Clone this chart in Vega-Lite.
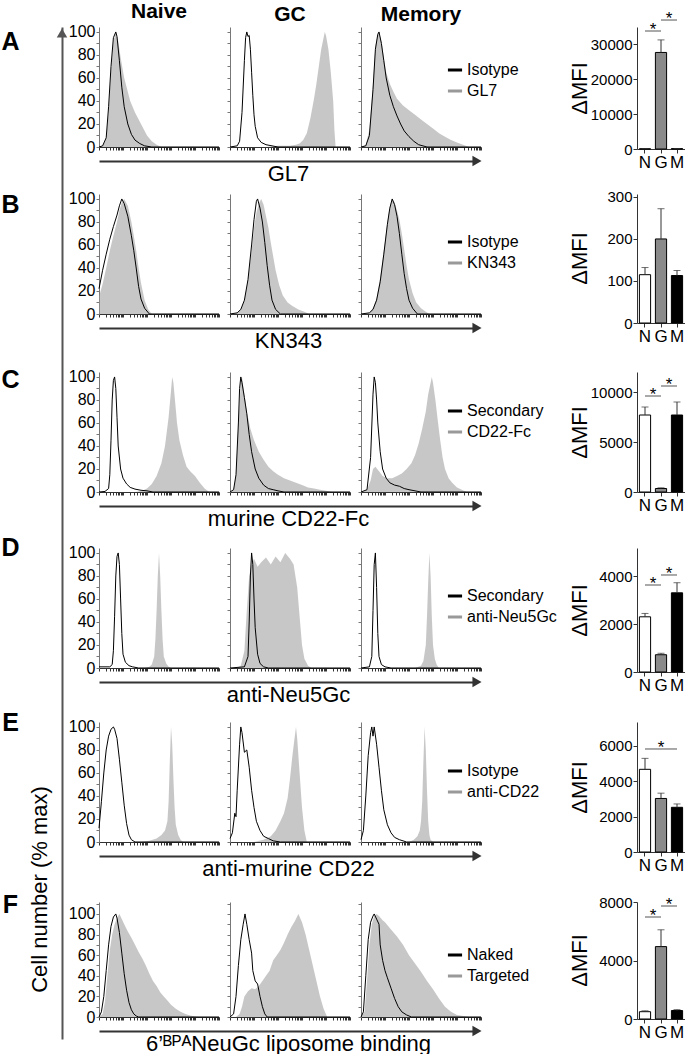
{
"$schema":"https://vega.github.io/schema/vega-lite/v6.json",
"padding":0,
"config":{"font":"Liberation Sans","view":{"stroke":null},"axis":{"grid":false,"labelColor":"#000","titleColor":"#000","labelFont":"Liberation Sans","titleFont":"Liberation Sans"},"legend":{"labelFont":"Liberation Sans","labelColor":"#000"},"title":{"font":"Liberation Sans","color":"#000"}},
"datasets":{
"h":[
{"r":"A","p":"N","s":"f","lab":"GL7","x":[0,3,6,8,10,12,14,16,18,21,24,26,30,35,40,44,48,52,100],"y":[0,1,8,30,65,92,100,92,78,60,48,40,30,20,10,5,2,0,0]},
{"r":"A","p":"N","s":"l","lab":"Isotype","x":[0,3,6,8,10,12,14,15,17,19,21,24,27,30,34,38,44,100],"y":[0,1,8,35,70,95,100,96,75,52,35,20,11,6,3,1,0,0]},
{"r":"A","p":"G","s":"f","lab":"GL7","x":[0,30,40,50,55,58,61,64,67,70,72,74,76,78,79,80,82,84,86,87,88,100],"y":[0,0,1,1,2,3,6,12,25,42,55,70,85,95,100,97,85,65,40,15,0,0]},
{"r":"A","p":"G","s":"l","lab":"Isotype","x":[0,6,8,10,12,13,14,15,16,17,18,19,20,21,23,26,30,35,40,100],"y":[0,1,5,30,75,95,100,96,97,85,65,45,28,18,8,4,2,1,0,0]},
{"r":"A","p":"M","s":"f","lab":"GL7","x":[0,4,7,10,12,14,15,17,19,21,24,27,30,35,40,45,50,55,60,65,70,75,80,85,90,100],"y":[0,2,15,55,88,98,100,92,78,65,55,48,42,36,32,28,24,20,16,12,9,6,4,2,0,0]},
{"r":"A","p":"M","s":"l","lab":"Isotype","x":[0,4,7,10,12,14,15,17,19,21,24,27,30,33,36,40,44,48,55,100],"y":[0,1,10,50,85,98,100,90,75,60,45,35,27,20,14,9,5,2,0,0]},
{"r":"B","p":"N","s":"f","lab":"KN343","x":[0,3,6,9,12,15,17,19,21,24,27,29,31,33,35,38,41,44,100],"y":[15,26,40,55,68,80,90,97,100,94,80,68,55,40,27,12,4,0,0]},
{"r":"B","p":"N","s":"l","lab":"Isotype","x":[0,3,6,9,12,15,17,19,21,24,27,29,31,33,35,38,42,100],"y":[22,38,52,65,76,86,94,100,96,85,68,55,40,24,13,5,0,0]},
{"r":"B","p":"G","s":"f","lab":"KN343","x":[0,6,9,12,15,18,20,22,24,26,28,30,32,34,36,38,41,44,48,52,57,62,66,100],"y":[0,1,4,12,30,55,75,88,96,100,95,85,75,62,50,38,25,16,10,7,4,2,0,0]},
{"r":"B","p":"G","s":"l","lab":"Isotype","x":[0,6,9,12,15,18,20,22,23,25,27,29,31,33,35,38,42,100],"y":[0,1,4,12,30,60,82,98,100,92,80,62,42,25,12,4,0,0]},
{"r":"B","p":"M","s":"f","lab":"KN343","x":[0,7,10,13,16,19,22,24,26,28,30,32,34,36,38,40,43,46,50,54,57,100],"y":[0,1,5,14,32,55,80,93,100,97,90,82,70,56,42,30,18,10,5,2,0,0]},
{"r":"B","p":"M","s":"l","lab":"Isotype","x":[0,7,10,13,16,19,22,24,26,28,30,32,34,36,38,40,43,47,100],"y":[0,1,4,12,28,52,78,92,100,95,85,70,52,35,22,12,5,0,0]},
{"r":"C","p":"N","s":"f","lab":"CD22-Fc","x":[0,30,36,40,44,48,52,55,58,60,61,62,64,65,67,70,73,76,80,84,88,92,100],"y":[0,0,1,3,7,14,25,40,65,88,100,95,72,60,45,32,22,18,14,8,3,0,0]},
{"r":"C","p":"N","s":"l","lab":"Secondary","x":[0,5,8,9,10,11,12,13,14,15,16,18,20,23,26,30,35,40,45,100],"y":[0,0.5,3,15,45,80,97,100,90,65,40,20,12,7,4,2.5,1.5,1,0,0]},
{"r":"C","p":"G","s":"f","lab":"CD22-Fc","x":[0,3,5,7,9,10,12,14,17,20,24,28,32,36,40,45,50,55,60,65,70,75,80,85,100],"y":[0,2,15,60,95,100,85,70,55,45,35,28,22,18,15,12,10,8,6,4,3,2,1,0,0]},
{"r":"C","p":"G","s":"l","lab":"Secondary","x":[0,3,5,7,8,9,10,12,14,16,18,21,24,28,32,36,40,45,100],"y":[0,2,15,60,90,100,95,82,68,50,35,20,12,6,3,2,1,0,0]},
{"r":"C","p":"M","s":"f","lab":"CD22-Fc","x":[0,5,8,10,12,15,18,22,26,30,34,38,42,45,48,51,54,56,58,59,60,62,64,66,68,70,73,76,80,84,88,100],"y":[0,2,10,20,22,18,14,12,12,14,16,20,25,32,42,55,70,85,95,100,95,80,62,45,30,20,12,8,4,2,0,0]},
{"r":"C","p":"M","s":"l","lab":"Secondary","x":[0,5,8,10,11,12,13,14,16,18,21,24,28,32,36,40,45,50,100],"y":[0,2,30,85,100,95,80,60,35,20,12,8,6,5,3,2,1,0,0]},
{"r":"D","p":"N","s":"f","lab":"anti-Neu5Gc","x":[0,38,42,44,46,47,48,49,50,51,52,53,54,56,58,60,100],"y":[0,0,1,3,10,25,50,80,100,80,50,25,10,4,1,0,0]},
{"r":"D","p":"N","s":"l","lab":"Secondary","x":[0,9,11,12,13,14,15,16,17,18,19,20,22,25,28,33,100],"y":[1,1,3,15,45,80,97,100,90,60,30,12,5,2,1,0,0]},
{"r":"D","p":"G","s":"f","lab":"anti-Neu5Gc","x":[0,5,9,12,14,16,18,20,23,26,30,34,38,42,46,50,53,56,58,60,62,65,68,100],"y":[0,0,2,15,50,80,90,95,88,92,96,90,97,92,100,95,90,70,45,20,8,2,0,0]},
{"r":"D","p":"G","s":"l","lab":"Secondary","x":[0,12,15,16,17,18,19,20,21,23,25,28,32,100],"y":[0,1,10,40,80,100,90,60,35,12,4,1,0,0]},
{"r":"D","p":"M","s":"f","lab":"anti-Neu5Gc","x":[0,45,50,52,54,55,56,57,58,59,60,61.5,63,65,100],"y":[0,0,2,6,20,45,75,100,80,45,20,8,3,0,0]},
{"r":"D","p":"M","s":"l","lab":"Secondary","x":[0,7,9,10,11,12,13,14,15,17,20,25,100],"y":[0,1,10,50,90,100,70,30,10,3,1,0,0]},
{"r":"E","p":"N","s":"f","lab":"anti-CD22","x":[0,36,42,48,52,55,57,58,59,60,61,62,63,64,66,68,70,100],"y":[0,0,1,3,6,10,18,35,70,100,85,55,30,15,6,2,0,0]},
{"r":"E","p":"N","s":"l","lab":"Isotype","x":[0,2,4,6,8,10,12,13,15,17,19,21,23,25,27,30,100],"y":[12,35,60,80,92,98,100,98,90,72,52,32,16,6,2,0,0]},
{"r":"E","p":"G","s":"f","lab":"anti-CD22","x":[0,20,28,34,38,42,45,48,50,52,54,55,56,58,60,62,64,100],"y":[0,0,2,5,10,18,25,38,55,75,92,100,90,60,30,10,0,0]},
{"r":"E","p":"G","s":"l","lab":"Isotype","x":[0,2,4,5,6,8,9,10,12,14,16,18,20,22,25,28,32,36,42,100],"y":[3,8,25,22,45,85,100,95,78,80,65,45,30,18,10,5,3,1,0,0]},
{"r":"E","p":"M","s":"f","lab":"anti-CD22","x":[0,40,44,47,49,50,51,52,53,54,55,56,57,58,60,100],"y":[0,0,2,5,10,18,35,70,100,80,45,18,6,2,0,0]},
{"r":"E","p":"M","s":"l","lab":"Isotype","x":[0,2,4,6,8,9,10,11,13,15,17,19,22,25,28,32,38,100],"y":[2,10,40,75,95,100,92,100,85,65,45,28,15,8,4,2,0,0]},
{"r":"F","p":"N","s":"f","lab":"Targeted","x":[0,3,5,7,9,11,13,15,17,19,21,24,27,30,33,36,39,42,45,48,51,54,57,60,64,68,72,76,80,84,100],"y":[0,3,15,40,65,80,90,96,100,95,90,83,77,70,63,57,50,42,35,30,24,20,16,12,8,5,3,1.5,0.5,0,0]},
{"r":"F","p":"N","s":"l","lab":"Naked","x":[0,2,4,6,8,10,12,14,15,17,19,21,23,25,27,29,31,33,100],"y":[0,5,20,45,70,88,97,100,96,82,62,42,26,14,7,3,1,0,0]},
{"r":"F","p":"G","s":"f","lab":"Targeted","x":[0,5,8,10,12,15,18,21,24,27,30,33,36,39,42,45,48,51,54,57,60,63,66,69,72,75,78,81,100],"y":[0,0,3,10,20,25,28,27,30,35,40,45,55,60,65,72,80,87,93,100,92,80,65,50,35,20,8,0,0]},
{"r":"F","p":"G","s":"l","lab":"Naked","x":[0,3,5,7,9,11,12.5,14,16,18,19,21,23,25,27,29,31,100],"y":[0,3,20,50,75,90,100,90,75,62,45,35,32,20,10,3,0,0]},
{"r":"F","p":"M","s":"f","lab":"Targeted","x":[0,3,5,7,9,11,13,15,18,20,25,30,35,40,45,50,55,60,65,70,75,80,85,90,100],"y":[0,5,35,70,90,98,100,98,94,92,85,78,70,60,52,44,35,27,18,10,5,2,1,0,0]},
{"r":"F","p":"M","s":"l","lab":"Naked","x":[0,2,4,6,8,10,11,13,15,16,18,20,22,25,28,31,34,38,42,100],"y":[0,5,40,75,92,98,100,95,90,70,55,45,38,28,18,10,5,2,0,0]}
],
"bars":[
{"r":"A","g":"N","v":60,"e":90},{"r":"A","g":"G","v":27700,"e":31300},{"r":"A","g":"M","v":100,"e":150},
{"r":"B","g":"N","v":115,"e":132},{"r":"B","g":"G","v":200,"e":272},{"r":"B","g":"M","v":113,"e":125},
{"r":"C","g":"N","v":7700,"e":8500},{"r":"C","g":"G","v":350,"e":420},{"r":"C","g":"M","v":7700,"e":9000},
{"r":"D","g":"N","v":2300,"e":2440},{"r":"D","g":"G","v":720,"e":780},{"r":"D","g":"M","v":3300,"e":3720},
{"r":"E","g":"N","v":4680,"e":5300},{"r":"E","g":"G","v":3030,"e":3330},{"r":"E","g":"M","v":2530,"e":2720},
{"r":"F","g":"N","v":500,"e":560},{"r":"F","g":"G","v":4950,"e":6100},{"r":"F","g":"M","v":580,"e":640}
],
"sig":[
{"r":"A","a":"N","b":"G","y":33850,"t":"*"},{"r":"A","a":"G","b":"M","y":37000,"t":"*"},
{"r":"C","a":"N","b":"G","y":9600,"t":"*"},{"r":"C","a":"G","b":"M","y":10600,"t":"*"},
{"r":"D","a":"N","b":"G","y":3625,"t":"*"},{"r":"D","a":"G","b":"M","y":4042,"t":"*"},
{"r":"E","a":"N","b":"M","y":5830,"t":"*"},
{"r":"F","a":"N","b":"G","y":6974,"t":"*"},{"r":"F","a":"G","b":"M","y":7726,"t":"*"}
]
},
"columns":4,
"bounds":"flush",
"spacing":{"row":40,"column":11},
"resolve":{"scale":{"color":"independent"},"legend":{"color":"independent"}},
"concat":[
{"title":{"text":"Naive","fontSize":21,"fontWeight":"bold","offset":2,"frame":"group"},"width":120,"height":120,
 "resolve":{"scale":{"x":"independent","y":"independent"},"axis":{"x":"independent","y":"independent"}},
 "layer":[
  {"data":{"name":"h"},"transform":[{"filter":"datum.r=='A' && datum.p=='N'"},{"flatten":["x","y"]}],
   "encoding":{"x":{"field":"x","type":"quantitative","scale":{"domain":[0,100],"nice":false},"axis":{"orient":"bottom","values":[0,6,9.5,12,14,15.6,16.9,18.1,19.1,20,26,29.5,32,34,35.6,36.9,38.1,39.1,40,46,49.5,52,54,55.6,56.9,58.1,59.1,60,66,69.5,72,74,75.6,76.9,78.1,79.1,80,86,89.5,92,94,95.6,96.9,98.1,99.1,100],"labels":false,"tickSize":3,"tickColor":"#333","domainColor":"#333","title":null}},
    "y":{"field":"y","type":"quantitative","scale":{"domain":[0,104.3],"nice":false},"axis":{"orient":"left","values":[0,10,20,30,40,50,60,70,80,90,100],"labelExpr":"datum.value % 20 == 0 ? datum.label : ''","tickSize":3,"tickColor":"#777","domainColor":"#777","labelFontSize":16,"labelPadding":1,"title":"A","titleAngle":0,"titleX":-89,"titleY":14,"titleFontSize":25,"titleFontWeight":"bold","titleAlign":"center","titleBaseline":"middle"}}},
   "layer":[{"transform":[{"filter":"datum.s=='f'"}],"mark":{"type":"area","color":"#999","fillOpacity":0.55}},{"transform":[{"filter":"datum.s=='l'"}],"mark":{"type":"line","color":"#000","strokeWidth":1}}]},
  {"data":{"values":[{"k":1}]},"mark":{"type":"point","shape":"triangle-right","filled":true,"color":"#333","size":110,"opacity":1},
   "encoding":{"x":{"datum":100,"type":"quantitative","scale":{"domain":[0,100],"range":[0,378]},"axis":{"orient":"bottom","offset":14,"domainColor":"#333","domainWidth":2,"ticks":false,"labels":false,"grid":false,"title":"GL7","titlePadding":2,"titleFontSize":22,"titleFontWeight":"normal"}},
    "y":{"datum":-12.17,"type":"quantitative","scale":{"domain":[0,104.3]},"axis":null}}},
  {"data":{"values":[{"k":1}]},"mark":{"type":"point","shape":"triangle-up","filled":true,"color":"#555","size":110,"opacity":1},
   "encoding":{"x":{"datum":-30.83,"type":"quantitative","scale":{"domain":[0,100]},"axis":null},
    "y":{"datum":0.994,"type":"quantitative","scale":{"domain":[0,1],"range":[1012,0]},"axis":{"orient":"left","offset":37,"domainColor":"#555","domainWidth":2,"ticks":false,"labels":false,"grid":false,"title":"Cell number (% max)","titleX":-23,"titleY":862,"titleAngle":-90,"titleFontSize":22,"titleFontWeight":"normal","titleAlign":"center","titleBaseline":"middle"}}}}
 ]},
{"title":{"text":"GC","fontSize":21,"fontWeight":"bold","offset":2,"frame":"group"},"width":120,"height":120,"data":{"name":"h"},"transform":[{"filter":"datum.r=='A' && datum.p=='G'"},{"flatten":["x","y"]}],
 "encoding":{"x":{"field":"x","type":"quantitative","scale":{"domain":[0,100],"nice":false},"axis":{"values":[0,6,9.5,12,14,15.6,16.9,18.1,19.1,20,26,29.5,32,34,35.6,36.9,38.1,39.1,40,46,49.5,52,54,55.6,56.9,58.1,59.1,60,66,69.5,72,74,75.6,76.9,78.1,79.1,80,86,89.5,92,94,95.6,96.9,98.1,99.1,100],"labels":false,"tickSize":3,"tickColor":"#333","domainColor":"#333","title":null}},
  "y":{"field":"y","type":"quantitative","scale":{"domain":[0,104.3],"nice":false},"axis":{"values":[0,10,20,30,40,50,60,70,80,90,100],"labels":false,"tickSize":3,"tickColor":"#777","domainColor":"#777","title":null}}},
 "layer":[{"transform":[{"filter":"datum.s=='f'"}],"mark":{"type":"area","color":"#999","fillOpacity":0.55}},{"transform":[{"filter":"datum.s=='l'"}],"mark":{"type":"line","color":"#000","strokeWidth":1}}]},
{"title":{"text":"Memory","fontSize":21,"fontWeight":"bold","offset":2,"frame":"group","dx":-72.5},"width":265,"height":120,"data":{"name":"h"},"transform":[{"filter":"datum.r=='A' && datum.p=='M'"},{"flatten":["x","y"]}],
 "encoding":{"x":{"field":"x","type":"quantitative","scale":{"domain":[0,100],"nice":false,"range":[0,120]},"axis":{"values":[0,6,9.5,12,14,15.6,16.9,18.1,19.1,20,26,29.5,32,34,35.6,36.9,38.1,39.1,40,46,49.5,52,54,55.6,56.9,58.1,59.1,60,66,69.5,72,74,75.6,76.9,78.1,79.1,80,86,89.5,92,94,95.6,96.9,98.1,99.1,100],"labels":false,"tickSize":3,"tickColor":"#333","domainColor":"#333","title":null}},
  "y":{"field":"y","type":"quantitative","scale":{"domain":[0,104.3],"nice":false},"axis":{"values":[0,10,20,30,40,50,60,70,80,90,100],"labels":false,"tickSize":3,"tickColor":"#777","domainColor":"#777","title":null}}},
 "layer":[{"transform":[{"filter":"datum.s=='f'"}],"mark":{"type":"area","color":"#999","fillOpacity":0.55}},{"transform":[{"filter":"datum.s=='l'"}],"mark":{"type":"line","strokeWidth":1},"encoding":{"color":{"field":"lab","type":"nominal","scale":{"domain":["Isotype","GL7"],"range":["#000","#999"]},"legend":{"orient":"none","legendX":85,"legendY":34,"title":null,"symbolType":"stroke","symbolStrokeWidth":3,"symbolSize":200,"labelFontSize":16,"labelOffset":3,"rowPadding":4,"padding":0}}}}]},
{"width":48,"height":127,"data":{"name":"bars"},"transform":[{"filter":"datum.r=='A'"}],
 "layer":[
  {"mark":{"type":"bar","stroke":"#000","strokeWidth":1},"encoding":{"x":{"field":"g","type":"nominal","sort":["N","G","M"],"scale":{"domain":["N","G","M"],"paddingInner":0.3,"paddingOuter":0.15},"axis":{"title":null,"labelAngle":0,"labelFontSize":17,"tickSize":4,"domainColor":"#333","tickColor":"#333","labelPadding":1,"offset":-5}},
    "y":{"field":"v","type":"quantitative","scale":{"domain":[0,35000],"nice":false,"range":[122,0]},"axis":{"values":[0,10000,20000,30000],"format":"d","title":"ΔMFI","titleFontSize":22,"titleFontWeight":"normal","titleX":-58,"titleY":61,"titleAngle":-90,"titleAlign":"center","titleBaseline":"middle","labelFontSize":15,"tickSize":4,"labelPadding":1,"domainColor":"#333","tickColor":"#333"}},
    "fill":{"field":"g","type":"nominal","scale":{"domain":["N","G","M"],"range":["#fff","#8a8a8a","#000"]},"legend":null}}},
  {"mark":{"type":"rule","color":"#333"},"encoding":{"x":{"field":"g","type":"nominal"},"y":{"field":"v","type":"quantitative"},"y2":{"field":"e"}}},
  {"mark":{"type":"tick","color":"#333","size":7,"thickness":1},"encoding":{"x":{"field":"g","type":"nominal"},"y":{"field":"e","type":"quantitative"}}},
  {"data":{"name":"sig"},"transform":[{"filter":"datum.r=='A'"}],"mark":{"type":"rule","color":"#555"},"encoding":{"x":{"field":"a","type":"nominal"},"x2":{"field":"b"},"y":{"field":"y","type":"quantitative"}}},
  {"data":{"name":"sig"},"transform":[{"filter":"datum.r=='A'"}],"mark":{"type":"text","fontSize":17,"dx":8,"dy":4,"baseline":"alphabetic","color":"#000"},"encoding":{"x":{"field":"a","type":"nominal"},"y":{"field":"y","type":"quantitative"},"text":{"field":"t"}}}
 ]},

{"width":120,"height":120,
 "resolve":{"scale":{"x":"independent","y":"independent"},"axis":{"x":"independent","y":"independent"}},
 "layer":[
  {"data":{"name":"h"},"transform":[{"filter":"datum.r=='B' && datum.p=='N'"},{"flatten":["x","y"]}],
   "encoding":{"x":{"field":"x","type":"quantitative","scale":{"domain":[0,100],"nice":false},"axis":{"orient":"bottom","values":[0,6,9.5,12,14,15.6,16.9,18.1,19.1,20,26,29.5,32,34,35.6,36.9,38.1,39.1,40,46,49.5,52,54,55.6,56.9,58.1,59.1,60,66,69.5,72,74,75.6,76.9,78.1,79.1,80,86,89.5,92,94,95.6,96.9,98.1,99.1,100],"labels":false,"tickSize":3,"tickColor":"#333","domainColor":"#333","title":null}},
    "y":{"field":"y","type":"quantitative","scale":{"domain":[0,104.3],"nice":false},"axis":{"orient":"left","values":[0,10,20,30,40,50,60,70,80,90,100],"labelExpr":"datum.value % 20 == 0 ? datum.label : ''","tickSize":3,"tickColor":"#777","domainColor":"#777","labelFontSize":16,"labelPadding":1,"title":"B","titleAngle":0,"titleX":-89,"titleY":10,"titleFontSize":25,"titleFontWeight":"bold","titleAlign":"center","titleBaseline":"middle"}}},
   "layer":[{"transform":[{"filter":"datum.s=='f'"}],"mark":{"type":"area","color":"#999","fillOpacity":0.55}},{"transform":[{"filter":"datum.s=='l'"}],"mark":{"type":"line","color":"#000","strokeWidth":1}}]},
  {"data":{"values":[{"k":1}]},"mark":{"type":"point","shape":"triangle-right","filled":true,"color":"#333","size":110,"opacity":1},
   "encoding":{"x":{"datum":100,"type":"quantitative","scale":{"domain":[0,100],"range":[0,378]},"axis":{"orient":"bottom","offset":14,"domainColor":"#333","domainWidth":2,"ticks":false,"labels":false,"grid":false,"title":"KN343","titlePadding":2,"titleFontSize":22,"titleFontWeight":"normal"}},
    "y":{"datum":-12.17,"type":"quantitative","scale":{"domain":[0,104.3]},"axis":null}}}
 ]},
{"width":120,"height":120,"data":{"name":"h"},"transform":[{"filter":"datum.r=='B' && datum.p=='G'"},{"flatten":["x","y"]}],
 "encoding":{"x":{"field":"x","type":"quantitative","scale":{"domain":[0,100],"nice":false},"axis":{"values":[0,6,9.5,12,14,15.6,16.9,18.1,19.1,20,26,29.5,32,34,35.6,36.9,38.1,39.1,40,46,49.5,52,54,55.6,56.9,58.1,59.1,60,66,69.5,72,74,75.6,76.9,78.1,79.1,80,86,89.5,92,94,95.6,96.9,98.1,99.1,100],"labels":false,"tickSize":3,"tickColor":"#333","domainColor":"#333","title":null}},
  "y":{"field":"y","type":"quantitative","scale":{"domain":[0,104.3],"nice":false},"axis":{"values":[0,10,20,30,40,50,60,70,80,90,100],"labels":false,"tickSize":3,"tickColor":"#777","domainColor":"#777","title":null}}},
 "layer":[{"transform":[{"filter":"datum.s=='f'"}],"mark":{"type":"area","color":"#999","fillOpacity":0.55}},{"transform":[{"filter":"datum.s=='l'"}],"mark":{"type":"line","color":"#000","strokeWidth":1}}]},
{"width":265,"height":120,"data":{"name":"h"},"transform":[{"filter":"datum.r=='B' && datum.p=='M'"},{"flatten":["x","y"]}],
 "encoding":{"x":{"field":"x","type":"quantitative","scale":{"domain":[0,100],"nice":false,"range":[0,120]},"axis":{"values":[0,6,9.5,12,14,15.6,16.9,18.1,19.1,20,26,29.5,32,34,35.6,36.9,38.1,39.1,40,46,49.5,52,54,55.6,56.9,58.1,59.1,60,66,69.5,72,74,75.6,76.9,78.1,79.1,80,86,89.5,92,94,95.6,96.9,98.1,99.1,100],"labels":false,"tickSize":3,"tickColor":"#333","domainColor":"#333","title":null}},
  "y":{"field":"y","type":"quantitative","scale":{"domain":[0,104.3],"nice":false},"axis":{"values":[0,10,20,30,40,50,60,70,80,90,100],"labels":false,"tickSize":3,"tickColor":"#777","domainColor":"#777","title":null}}},
 "layer":[{"transform":[{"filter":"datum.s=='f'"}],"mark":{"type":"area","color":"#999","fillOpacity":0.55}},{"transform":[{"filter":"datum.s=='l'"}],"mark":{"type":"line","strokeWidth":1},"encoding":{"color":{"field":"lab","type":"nominal","scale":{"domain":["Isotype","KN343"],"range":["#000","#999"]},"legend":{"orient":"none","legendX":85,"legendY":39,"title":null,"symbolType":"stroke","symbolStrokeWidth":3,"symbolSize":200,"labelFontSize":16,"labelOffset":3,"rowPadding":4,"padding":0}}}}]},
{"width":48,"height":138,"data":{"name":"bars"},"transform":[{"filter":"datum.r=='B'"}],
 "layer":[
  {"mark":{"type":"bar","stroke":"#000","strokeWidth":1},"encoding":{"x":{"field":"g","type":"nominal","sort":["N","G","M"],"scale":{"domain":["N","G","M"],"paddingInner":0.3,"paddingOuter":0.15},"axis":{"title":null,"labelAngle":0,"labelFontSize":17,"tickSize":4,"domainColor":"#333","tickColor":"#333","labelPadding":1,"offset":-9}},
    "y":{"field":"v","type":"quantitative","scale":{"domain":[0,307],"nice":false,"range":[129,0]},"axis":{"values":[0,100,200,300],"format":"d","title":"ΔMFI","titleFontSize":22,"titleFontWeight":"normal","titleX":-58,"titleY":64,"titleAngle":-90,"titleAlign":"center","titleBaseline":"middle","labelFontSize":15,"tickSize":4,"labelPadding":1,"domainColor":"#333","tickColor":"#333"}},
    "fill":{"field":"g","type":"nominal","scale":{"domain":["N","G","M"],"range":["#fff","#8a8a8a","#000"]},"legend":null}}},
  {"mark":{"type":"rule","color":"#333"},"encoding":{"x":{"field":"g","type":"nominal"},"y":{"field":"v","type":"quantitative"},"y2":{"field":"e"}}},
  {"mark":{"type":"tick","color":"#333","size":7,"thickness":1},"encoding":{"x":{"field":"g","type":"nominal"},"y":{"field":"e","type":"quantitative"}}}
 ]},

{"width":120,"height":120,
 "resolve":{"scale":{"x":"independent","y":"independent"},"axis":{"x":"independent","y":"independent"}},
 "layer":[
  {"data":{"name":"h"},"transform":[{"filter":"datum.r=='C' && datum.p=='N'"},{"flatten":["x","y"]}],
   "encoding":{"x":{"field":"x","type":"quantitative","scale":{"domain":[0,100],"nice":false},"axis":{"orient":"bottom","values":[0,6,9.5,12,14,15.6,16.9,18.1,19.1,20,26,29.5,32,34,35.6,36.9,38.1,39.1,40,46,49.5,52,54,55.6,56.9,58.1,59.1,60,66,69.5,72,74,75.6,76.9,78.1,79.1,80,86,89.5,92,94,95.6,96.9,98.1,99.1,100],"labels":false,"tickSize":3,"tickColor":"#333","domainColor":"#333","title":null}},
    "y":{"field":"y","type":"quantitative","scale":{"domain":[0,104.3],"nice":false},"axis":{"orient":"left","values":[0,10,20,30,40,50,60,70,80,90,100],"labelExpr":"datum.value % 20 == 0 ? datum.label : ''","tickSize":3,"tickColor":"#777","domainColor":"#777","labelFontSize":16,"labelPadding":1,"title":"C","titleAngle":0,"titleX":-89,"titleY":7,"titleFontSize":25,"titleFontWeight":"bold","titleAlign":"center","titleBaseline":"middle"}}},
   "layer":[{"transform":[{"filter":"datum.s=='f'"}],"mark":{"type":"area","color":"#999","fillOpacity":0.55}},{"transform":[{"filter":"datum.s=='l'"}],"mark":{"type":"line","color":"#000","strokeWidth":1}}]},
  {"data":{"values":[{"k":1}]},"mark":{"type":"point","shape":"triangle-right","filled":true,"color":"#333","size":110,"opacity":1},
   "encoding":{"x":{"datum":100,"type":"quantitative","scale":{"domain":[0,100],"range":[0,378]},"axis":{"orient":"bottom","offset":14,"domainColor":"#333","domainWidth":2,"ticks":false,"labels":false,"grid":false,"title":"murine CD22-Fc","titlePadding":2,"titleFontSize":22,"titleFontWeight":"normal"}},
    "y":{"datum":-12.17,"type":"quantitative","scale":{"domain":[0,104.3]},"axis":null}}}
 ]},
{"width":120,"height":120,"data":{"name":"h"},"transform":[{"filter":"datum.r=='C' && datum.p=='G'"},{"flatten":["x","y"]}],
 "encoding":{"x":{"field":"x","type":"quantitative","scale":{"domain":[0,100],"nice":false},"axis":{"values":[0,6,9.5,12,14,15.6,16.9,18.1,19.1,20,26,29.5,32,34,35.6,36.9,38.1,39.1,40,46,49.5,52,54,55.6,56.9,58.1,59.1,60,66,69.5,72,74,75.6,76.9,78.1,79.1,80,86,89.5,92,94,95.6,96.9,98.1,99.1,100],"labels":false,"tickSize":3,"tickColor":"#333","domainColor":"#333","title":null}},
  "y":{"field":"y","type":"quantitative","scale":{"domain":[0,104.3],"nice":false},"axis":{"values":[0,10,20,30,40,50,60,70,80,90,100],"labels":false,"tickSize":3,"tickColor":"#777","domainColor":"#777","title":null}}},
 "layer":[{"transform":[{"filter":"datum.s=='f'"}],"mark":{"type":"area","color":"#999","fillOpacity":0.55}},{"transform":[{"filter":"datum.s=='l'"}],"mark":{"type":"line","color":"#000","strokeWidth":1}}]},
{"width":265,"height":120,"data":{"name":"h"},"transform":[{"filter":"datum.r=='C' && datum.p=='M'"},{"flatten":["x","y"]}],
 "encoding":{"x":{"field":"x","type":"quantitative","scale":{"domain":[0,100],"nice":false,"range":[0,120]},"axis":{"values":[0,6,9.5,12,14,15.6,16.9,18.1,19.1,20,26,29.5,32,34,35.6,36.9,38.1,39.1,40,46,49.5,52,54,55.6,56.9,58.1,59.1,60,66,69.5,72,74,75.6,76.9,78.1,79.1,80,86,89.5,92,94,95.6,96.9,98.1,99.1,100],"labels":false,"tickSize":3,"tickColor":"#333","domainColor":"#333","title":null}},
  "y":{"field":"y","type":"quantitative","scale":{"domain":[0,104.3],"nice":false},"axis":{"values":[0,10,20,30,40,50,60,70,80,90,100],"labels":false,"tickSize":3,"tickColor":"#777","domainColor":"#777","title":null}}},
 "layer":[{"transform":[{"filter":"datum.s=='f'"}],"mark":{"type":"area","color":"#999","fillOpacity":0.55}},{"transform":[{"filter":"datum.s=='l'"}],"mark":{"type":"line","strokeWidth":1},"encoding":{"color":{"field":"lab","type":"nominal","scale":{"domain":["Secondary","CD22-Fc"],"range":["#000","#999"]},"legend":{"orient":"none","legendX":85,"legendY":30,"title":null,"symbolType":"stroke","symbolStrokeWidth":3,"symbolSize":200,"labelFontSize":16,"labelOffset":3,"rowPadding":4,"padding":0}}}}]},
{"width":48,"height":136,"data":{"name":"bars"},"transform":[{"filter":"datum.r=='C'"}],
 "layer":[
  {"mark":{"type":"bar","stroke":"#000","strokeWidth":1},"encoding":{"x":{"field":"g","type":"nominal","sort":["N","G","M"],"scale":{"domain":["N","G","M"],"paddingInner":0.3,"paddingOuter":0.15},"axis":{"title":null,"labelAngle":0,"labelFontSize":17,"tickSize":4,"domainColor":"#333","tickColor":"#333","labelPadding":1,"offset":-16}},
    "y":{"field":"v","type":"quantitative","scale":{"domain":[0,12000],"nice":false,"range":[120,0]},"axis":{"values":[0,5000,10000],"format":"d","title":"ΔMFI","titleFontSize":22,"titleFontWeight":"normal","titleX":-58,"titleY":60,"titleAngle":-90,"titleAlign":"center","titleBaseline":"middle","labelFontSize":15,"tickSize":4,"labelPadding":1,"domainColor":"#333","tickColor":"#333"}},
    "fill":{"field":"g","type":"nominal","scale":{"domain":["N","G","M"],"range":["#fff","#8a8a8a","#000"]},"legend":null}}},
  {"mark":{"type":"rule","color":"#333"},"encoding":{"x":{"field":"g","type":"nominal"},"y":{"field":"v","type":"quantitative"},"y2":{"field":"e"}}},
  {"mark":{"type":"tick","color":"#333","size":7,"thickness":1},"encoding":{"x":{"field":"g","type":"nominal"},"y":{"field":"e","type":"quantitative"}}},
  {"data":{"name":"sig"},"transform":[{"filter":"datum.r=='C'"}],"mark":{"type":"rule","color":"#555"},"encoding":{"x":{"field":"a","type":"nominal"},"x2":{"field":"b"},"y":{"field":"y","type":"quantitative"}}},
  {"data":{"name":"sig"},"transform":[{"filter":"datum.r=='C'"}],"mark":{"type":"text","fontSize":17,"dx":8,"dy":4,"baseline":"alphabetic","color":"#000"},"encoding":{"x":{"field":"a","type":"nominal"},"y":{"field":"y","type":"quantitative"},"text":{"field":"t"}}}
 ]},

{"width":120,"height":120,
 "resolve":{"scale":{"x":"independent","y":"independent"},"axis":{"x":"independent","y":"independent"}},
 "layer":[
  {"data":{"name":"h"},"transform":[{"filter":"datum.r=='D' && datum.p=='N'"},{"flatten":["x","y"]}],
   "encoding":{"x":{"field":"x","type":"quantitative","scale":{"domain":[0,100],"nice":false},"axis":{"orient":"bottom","values":[0,6,9.5,12,14,15.6,16.9,18.1,19.1,20,26,29.5,32,34,35.6,36.9,38.1,39.1,40,46,49.5,52,54,55.6,56.9,58.1,59.1,60,66,69.5,72,74,75.6,76.9,78.1,79.1,80,86,89.5,92,94,95.6,96.9,98.1,99.1,100],"labels":false,"tickSize":3,"tickColor":"#333","domainColor":"#333","title":null}},
    "y":{"field":"y","type":"quantitative","scale":{"domain":[0,104.3],"nice":false},"axis":{"orient":"left","values":[0,10,20,30,40,50,60,70,80,90,100],"labelExpr":"datum.value % 20 == 0 ? datum.label : ''","tickSize":3,"tickColor":"#777","domainColor":"#777","labelFontSize":16,"labelPadding":1,"title":"D","titleAngle":0,"titleX":-89,"titleY":-1,"titleFontSize":25,"titleFontWeight":"bold","titleAlign":"center","titleBaseline":"middle"}}},
   "layer":[{"transform":[{"filter":"datum.s=='f'"}],"mark":{"type":"area","color":"#999","fillOpacity":0.55}},{"transform":[{"filter":"datum.s=='l'"}],"mark":{"type":"line","color":"#000","strokeWidth":1}}]},
  {"data":{"values":[{"k":1}]},"mark":{"type":"point","shape":"triangle-right","filled":true,"color":"#333","size":110,"opacity":1},
   "encoding":{"x":{"datum":100,"type":"quantitative","scale":{"domain":[0,100],"range":[0,378]},"axis":{"orient":"bottom","offset":14,"domainColor":"#333","domainWidth":2,"ticks":false,"labels":false,"grid":false,"title":"anti-Neu5Gc","titlePadding":2,"titleFontSize":22,"titleFontWeight":"normal"}},
    "y":{"datum":-12.17,"type":"quantitative","scale":{"domain":[0,104.3]},"axis":null}}}
 ]},
{"width":120,"height":120,"data":{"name":"h"},"transform":[{"filter":"datum.r=='D' && datum.p=='G'"},{"flatten":["x","y"]}],
 "encoding":{"x":{"field":"x","type":"quantitative","scale":{"domain":[0,100],"nice":false},"axis":{"values":[0,6,9.5,12,14,15.6,16.9,18.1,19.1,20,26,29.5,32,34,35.6,36.9,38.1,39.1,40,46,49.5,52,54,55.6,56.9,58.1,59.1,60,66,69.5,72,74,75.6,76.9,78.1,79.1,80,86,89.5,92,94,95.6,96.9,98.1,99.1,100],"labels":false,"tickSize":3,"tickColor":"#333","domainColor":"#333","title":null}},
  "y":{"field":"y","type":"quantitative","scale":{"domain":[0,104.3],"nice":false},"axis":{"values":[0,10,20,30,40,50,60,70,80,90,100],"labels":false,"tickSize":3,"tickColor":"#777","domainColor":"#777","title":null}}},
 "layer":[{"transform":[{"filter":"datum.s=='f'"}],"mark":{"type":"area","color":"#999","fillOpacity":0.55}},{"transform":[{"filter":"datum.s=='l'"}],"mark":{"type":"line","color":"#000","strokeWidth":1}}]},
{"width":265,"height":120,"data":{"name":"h"},"transform":[{"filter":"datum.r=='D' && datum.p=='M'"},{"flatten":["x","y"]}],
 "encoding":{"x":{"field":"x","type":"quantitative","scale":{"domain":[0,100],"nice":false,"range":[0,120]},"axis":{"values":[0,6,9.5,12,14,15.6,16.9,18.1,19.1,20,26,29.5,32,34,35.6,36.9,38.1,39.1,40,46,49.5,52,54,55.6,56.9,58.1,59.1,60,66,69.5,72,74,75.6,76.9,78.1,79.1,80,86,89.5,92,94,95.6,96.9,98.1,99.1,100],"labels":false,"tickSize":3,"tickColor":"#333","domainColor":"#333","title":null}},
  "y":{"field":"y","type":"quantitative","scale":{"domain":[0,104.3],"nice":false},"axis":{"values":[0,10,20,30,40,50,60,70,80,90,100],"labels":false,"tickSize":3,"tickColor":"#777","domainColor":"#777","title":null}}},
 "layer":[{"transform":[{"filter":"datum.s=='f'"}],"mark":{"type":"area","color":"#999","fillOpacity":0.55}},{"transform":[{"filter":"datum.s=='l'"}],"mark":{"type":"line","strokeWidth":1},"encoding":{"color":{"field":"lab","type":"nominal","scale":{"domain":["Secondary","anti-Neu5Gc"],"range":["#000","#999"]},"legend":{"orient":"none","legendX":85,"legendY":39,"title":null,"symbolType":"stroke","symbolStrokeWidth":3,"symbolSize":200,"labelFontSize":16,"labelOffset":3,"rowPadding":4,"padding":0}}}}]},
{"width":48,"height":134,"data":{"name":"bars"},"transform":[{"filter":"datum.r=='D'"}],
 "layer":[
  {"mark":{"type":"bar","stroke":"#000","strokeWidth":1},"encoding":{"x":{"field":"g","type":"nominal","sort":["N","G","M"],"scale":{"domain":["N","G","M"],"paddingInner":0.3,"paddingOuter":0.15},"axis":{"title":null,"labelAngle":0,"labelFontSize":17,"tickSize":4,"domainColor":"#333","tickColor":"#333","labelPadding":1,"offset":-10}},
    "y":{"field":"v","type":"quantitative","scale":{"domain":[0,5167],"nice":false,"range":[124,0]},"axis":{"values":[0,1000,2000,3000,4000,5000],"format":"d","title":"ΔMFI","titleFontSize":22,"titleFontWeight":"normal","titleX":-58,"titleY":62,"titleAngle":-90,"titleAlign":"center","titleBaseline":"middle","labelFontSize":15,"tickSize":4,"labelPadding":1,"domainColor":"#333","tickColor":"#333"}},
    "fill":{"field":"g","type":"nominal","scale":{"domain":["N","G","M"],"range":["#fff","#8a8a8a","#000"]},"legend":null}}},
  {"mark":{"type":"rule","color":"#333"},"encoding":{"x":{"field":"g","type":"nominal"},"y":{"field":"v","type":"quantitative"},"y2":{"field":"e"}}},
  {"mark":{"type":"tick","color":"#333","size":7,"thickness":1},"encoding":{"x":{"field":"g","type":"nominal"},"y":{"field":"e","type":"quantitative"}}},
  {"data":{"name":"sig"},"transform":[{"filter":"datum.r=='D'"}],"mark":{"type":"rule","color":"#555"},"encoding":{"x":{"field":"a","type":"nominal"},"x2":{"field":"b"},"y":{"field":"y","type":"quantitative"}}},
  {"data":{"name":"sig"},"transform":[{"filter":"datum.r=='D'"}],"mark":{"type":"text","fontSize":17,"dx":8,"dy":4,"baseline":"alphabetic","color":"#000"},"encoding":{"x":{"field":"a","type":"nominal"},"y":{"field":"y","type":"quantitative"},"text":{"field":"t"}}}
 ]},

{"width":120,"height":120,
 "resolve":{"scale":{"x":"independent","y":"independent"},"axis":{"x":"independent","y":"independent"}},
 "layer":[
  {"data":{"name":"h"},"transform":[{"filter":"datum.r=='E' && datum.p=='N'"},{"flatten":["x","y"]}],
   "encoding":{"x":{"field":"x","type":"quantitative","scale":{"domain":[0,100],"nice":false},"axis":{"orient":"bottom","values":[0,6,9.5,12,14,15.6,16.9,18.1,19.1,20,26,29.5,32,34,35.6,36.9,38.1,39.1,40,46,49.5,52,54,55.6,56.9,58.1,59.1,60,66,69.5,72,74,75.6,76.9,78.1,79.1,80,86,89.5,92,94,95.6,96.9,98.1,99.1,100],"labels":false,"tickSize":3,"tickColor":"#333","domainColor":"#333","title":null}},
    "y":{"field":"y","type":"quantitative","scale":{"domain":[0,104.3],"nice":false},"axis":{"orient":"left","values":[0,10,20,30,40,50,60,70,80,90,100],"labelExpr":"datum.value % 20 == 0 ? datum.label : ''","tickSize":3,"tickColor":"#777","domainColor":"#777","labelFontSize":16,"labelPadding":1,"title":"E","titleAngle":0,"titleX":-89,"titleY":0,"titleFontSize":25,"titleFontWeight":"bold","titleAlign":"center","titleBaseline":"middle"}}},
   "layer":[{"transform":[{"filter":"datum.s=='f'"}],"mark":{"type":"area","color":"#999","fillOpacity":0.55}},{"transform":[{"filter":"datum.s=='l'"}],"mark":{"type":"line","color":"#000","strokeWidth":1}}]},
  {"data":{"values":[{"k":1}]},"mark":{"type":"point","shape":"triangle-right","filled":true,"color":"#333","size":110,"opacity":1},
   "encoding":{"x":{"datum":100,"type":"quantitative","scale":{"domain":[0,100],"range":[0,378]},"axis":{"orient":"bottom","offset":14,"domainColor":"#333","domainWidth":2,"ticks":false,"labels":false,"grid":false,"title":"anti-murine CD22","titlePadding":2,"titleFontSize":22,"titleFontWeight":"normal"}},
    "y":{"datum":-12.17,"type":"quantitative","scale":{"domain":[0,104.3]},"axis":null}}}
 ]},
{"width":120,"height":120,"data":{"name":"h"},"transform":[{"filter":"datum.r=='E' && datum.p=='G'"},{"flatten":["x","y"]}],
 "encoding":{"x":{"field":"x","type":"quantitative","scale":{"domain":[0,100],"nice":false},"axis":{"values":[0,6,9.5,12,14,15.6,16.9,18.1,19.1,20,26,29.5,32,34,35.6,36.9,38.1,39.1,40,46,49.5,52,54,55.6,56.9,58.1,59.1,60,66,69.5,72,74,75.6,76.9,78.1,79.1,80,86,89.5,92,94,95.6,96.9,98.1,99.1,100],"labels":false,"tickSize":3,"tickColor":"#333","domainColor":"#333","title":null}},
  "y":{"field":"y","type":"quantitative","scale":{"domain":[0,104.3],"nice":false},"axis":{"values":[0,10,20,30,40,50,60,70,80,90,100],"labels":false,"tickSize":3,"tickColor":"#777","domainColor":"#777","title":null}}},
 "layer":[{"transform":[{"filter":"datum.s=='f'"}],"mark":{"type":"area","color":"#999","fillOpacity":0.55}},{"transform":[{"filter":"datum.s=='l'"}],"mark":{"type":"line","color":"#000","strokeWidth":1}}]},
{"width":265,"height":120,"data":{"name":"h"},"transform":[{"filter":"datum.r=='E' && datum.p=='M'"},{"flatten":["x","y"]}],
 "encoding":{"x":{"field":"x","type":"quantitative","scale":{"domain":[0,100],"nice":false,"range":[0,120]},"axis":{"values":[0,6,9.5,12,14,15.6,16.9,18.1,19.1,20,26,29.5,32,34,35.6,36.9,38.1,39.1,40,46,49.5,52,54,55.6,56.9,58.1,59.1,60,66,69.5,72,74,75.6,76.9,78.1,79.1,80,86,89.5,92,94,95.6,96.9,98.1,99.1,100],"labels":false,"tickSize":3,"tickColor":"#333","domainColor":"#333","title":null}},
  "y":{"field":"y","type":"quantitative","scale":{"domain":[0,104.3],"nice":false},"axis":{"values":[0,10,20,30,40,50,60,70,80,90,100],"labels":false,"tickSize":3,"tickColor":"#777","domainColor":"#777","title":null}}},
 "layer":[{"transform":[{"filter":"datum.s=='f'"}],"mark":{"type":"area","color":"#999","fillOpacity":0.55}},{"transform":[{"filter":"datum.s=='l'"}],"mark":{"type":"line","strokeWidth":1},"encoding":{"color":{"field":"lab","type":"nominal","scale":{"domain":["Isotype","anti-CD22"],"range":["#000","#999"]},"legend":{"orient":"none","legendX":85,"legendY":40,"title":null,"symbolType":"stroke","symbolStrokeWidth":3,"symbolSize":200,"labelFontSize":16,"labelOffset":3,"rowPadding":4,"padding":0}}}}]},
{"width":48,"height":140,"data":{"name":"bars"},"transform":[{"filter":"datum.r=='E'"}],
 "layer":[
  {"mark":{"type":"bar","stroke":"#000","strokeWidth":1},"encoding":{"x":{"field":"g","type":"nominal","sort":["N","G","M"],"scale":{"domain":["N","G","M"],"paddingInner":0.3,"paddingOuter":0.15},"axis":{"title":null,"labelAngle":0,"labelFontSize":17,"tickSize":4,"domainColor":"#333","tickColor":"#333","labelPadding":1,"offset":-10}},
    "y":{"field":"v","type":"quantitative","scale":{"domain":[0,7358],"nice":false,"range":[130,0]},"axis":{"values":[0,2000,4000,6000],"format":"d","title":"ΔMFI","titleFontSize":22,"titleFontWeight":"normal","titleX":-58,"titleY":65,"titleAngle":-90,"titleAlign":"center","titleBaseline":"middle","labelFontSize":15,"tickSize":4,"labelPadding":1,"domainColor":"#333","tickColor":"#333"}},
    "fill":{"field":"g","type":"nominal","scale":{"domain":["N","G","M"],"range":["#fff","#8a8a8a","#000"]},"legend":null}}},
  {"mark":{"type":"rule","color":"#333"},"encoding":{"x":{"field":"g","type":"nominal"},"y":{"field":"v","type":"quantitative"},"y2":{"field":"e"}}},
  {"mark":{"type":"tick","color":"#333","size":7,"thickness":1},"encoding":{"x":{"field":"g","type":"nominal"},"y":{"field":"e","type":"quantitative"}}},
  {"data":{"name":"sig"},"transform":[{"filter":"datum.r=='E'"}],"mark":{"type":"rule","color":"#555"},"encoding":{"x":{"field":"a","type":"nominal"},"x2":{"field":"b"},"y":{"field":"y","type":"quantitative"}}},
  {"data":{"name":"sig"},"transform":[{"filter":"datum.r=='E'"}],"mark":{"type":"text","fontSize":17,"dx":16,"dy":4,"baseline":"alphabetic","color":"#000"},"encoding":{"x":{"field":"a","type":"nominal"},"y":{"field":"y","type":"quantitative"},"text":{"field":"t"}}}
 ]},

{"width":120,"height":115,
 "resolve":{"scale":{"x":"independent","y":"independent"},"axis":{"x":"independent","y":"independent"}},
 "layer":[
  {"data":{"name":"h"},"transform":[{"filter":"datum.r=='F' && datum.p=='N'"},{"flatten":["x","y"]}],
   "encoding":{"x":{"field":"x","type":"quantitative","scale":{"domain":[0,100],"nice":false},"axis":{"orient":"bottom","values":[0,6,9.5,12,14,15.6,16.9,18.1,19.1,20,26,29.5,32,34,35.6,36.9,38.1,39.1,40,46,49.5,52,54,55.6,56.9,58.1,59.1,60,66,69.5,72,74,75.6,76.9,78.1,79.1,80,86,89.5,92,94,95.6,96.9,98.1,99.1,100],"labels":false,"tickSize":3,"tickColor":"#333","domainColor":"#333","title":null}},
    "y":{"field":"y","type":"quantitative","scale":{"domain":[0,111.6],"nice":false},"axis":{"orient":"left","values":[0,10,20,30,40,50,60,70,80,90,100,110],"labelExpr":"datum.value % 20 == 0 ? datum.label : ''","tickSize":3,"tickColor":"#777","domainColor":"#777","labelFontSize":16,"labelPadding":1,"title":"F","titleAngle":0,"titleX":-89,"titleY":2,"titleFontSize":25,"titleFontWeight":"bold","titleAlign":"center","titleBaseline":"middle"}}},
   "layer":[{"transform":[{"filter":"datum.s=='f'"}],"mark":{"type":"area","color":"#999","fillOpacity":0.55}},{"transform":[{"filter":"datum.s=='l'"}],"mark":{"type":"line","color":"#000","strokeWidth":1}}]},
  {"data":{"values":[{"k":1}]},"mark":{"type":"point","shape":"triangle-right","filled":true,"color":"#333","size":110,"opacity":1},
   "encoding":{"x":{"datum":100,"type":"quantitative","scale":{"domain":[0,100],"range":[0,378]},"axis":{"orient":"bottom","offset":14,"domainColor":"#333","domainWidth":2,"ticks":false,"labels":false,"grid":false,"title":"6’ᴮᴾᴬNeuGc liposome binding","titlePadding":2,"titleFontSize":22,"titleFontWeight":"normal"}},
    "y":{"datum":-13.59,"type":"quantitative","scale":{"domain":[0,111.6]},"axis":null}}}
 ]},
{"width":120,"height":115,"data":{"name":"h"},"transform":[{"filter":"datum.r=='F' && datum.p=='G'"},{"flatten":["x","y"]}],
 "encoding":{"x":{"field":"x","type":"quantitative","scale":{"domain":[0,100],"nice":false},"axis":{"values":[0,6,9.5,12,14,15.6,16.9,18.1,19.1,20,26,29.5,32,34,35.6,36.9,38.1,39.1,40,46,49.5,52,54,55.6,56.9,58.1,59.1,60,66,69.5,72,74,75.6,76.9,78.1,79.1,80,86,89.5,92,94,95.6,96.9,98.1,99.1,100],"labels":false,"tickSize":3,"tickColor":"#333","domainColor":"#333","title":null}},
  "y":{"field":"y","type":"quantitative","scale":{"domain":[0,111.6],"nice":false},"axis":{"values":[0,10,20,30,40,50,60,70,80,90,100,110],"labels":false,"tickSize":3,"tickColor":"#777","domainColor":"#777","title":null}}},
 "layer":[{"transform":[{"filter":"datum.s=='f'"}],"mark":{"type":"area","color":"#999","fillOpacity":0.55}},{"transform":[{"filter":"datum.s=='l'"}],"mark":{"type":"line","color":"#000","strokeWidth":1}}]},
{"width":265,"height":115,"data":{"name":"h"},"transform":[{"filter":"datum.r=='F' && datum.p=='M'"},{"flatten":["x","y"]}],
 "encoding":{"x":{"field":"x","type":"quantitative","scale":{"domain":[0,100],"nice":false,"range":[0,120]},"axis":{"values":[0,6,9.5,12,14,15.6,16.9,18.1,19.1,20,26,29.5,32,34,35.6,36.9,38.1,39.1,40,46,49.5,52,54,55.6,56.9,58.1,59.1,60,66,69.5,72,74,75.6,76.9,78.1,79.1,80,86,89.5,92,94,95.6,96.9,98.1,99.1,100],"labels":false,"tickSize":3,"tickColor":"#333","domainColor":"#333","title":null}},
  "y":{"field":"y","type":"quantitative","scale":{"domain":[0,111.6],"nice":false},"axis":{"values":[0,10,20,30,40,50,60,70,80,90,100,110],"labels":false,"tickSize":3,"tickColor":"#777","domainColor":"#777","title":null}}},
 "layer":[{"transform":[{"filter":"datum.s=='f'"}],"mark":{"type":"area","color":"#999","fillOpacity":0.55}},{"transform":[{"filter":"datum.s=='l'"}],"mark":{"type":"line","strokeWidth":1},"encoding":{"color":{"field":"lab","type":"nominal","scale":{"domain":["Naked","Targeted"],"range":["#000","#999"]},"legend":{"orient":"none","legendX":85,"legendY":44,"title":null,"symbolType":"stroke","symbolStrokeWidth":3,"symbolSize":200,"labelFontSize":16,"labelOffset":3,"rowPadding":4,"padding":0}}}}]},
{"width":48,"height":117,"data":{"name":"bars"},"transform":[{"filter":"datum.r=='F'"}],
 "layer":[
  {"mark":{"type":"bar","stroke":"#000","strokeWidth":1},"encoding":{"x":{"field":"g","type":"nominal","sort":["N","G","M"],"scale":{"domain":["N","G","M"],"paddingInner":0.3,"paddingOuter":0.15},"axis":{"title":null,"labelAngle":0,"labelFontSize":17,"tickSize":4,"domainColor":"#333","tickColor":"#333","labelPadding":1}},
    "y":{"field":"v","type":"quantitative","scale":{"domain":[0,8000],"nice":false},"axis":{"values":[0,2000,4000,6000,8000],"format":"d","title":"ΔMFI","titleFontSize":22,"titleFontWeight":"normal","titleX":-58,"titleY":58,"titleAngle":-90,"titleAlign":"center","titleBaseline":"middle","labelFontSize":15,"tickSize":4,"labelPadding":1,"domainColor":"#333","tickColor":"#333"}},
    "fill":{"field":"g","type":"nominal","scale":{"domain":["N","G","M"],"range":["#fff","#8a8a8a","#000"]},"legend":null}}},
  {"mark":{"type":"rule","color":"#333"},"encoding":{"x":{"field":"g","type":"nominal"},"y":{"field":"v","type":"quantitative"},"y2":{"field":"e"}}},
  {"mark":{"type":"tick","color":"#333","size":7,"thickness":1},"encoding":{"x":{"field":"g","type":"nominal"},"y":{"field":"e","type":"quantitative"}}},
  {"data":{"name":"sig"},"transform":[{"filter":"datum.r=='F'"}],"mark":{"type":"rule","color":"#555"},"encoding":{"x":{"field":"a","type":"nominal"},"x2":{"field":"b"},"y":{"field":"y","type":"quantitative"}}},
  {"data":{"name":"sig"},"transform":[{"filter":"datum.r=='F'"}],"mark":{"type":"text","fontSize":17,"dx":8,"dy":4,"baseline":"alphabetic","color":"#000"},"encoding":{"x":{"field":"a","type":"nominal"},"y":{"field":"y","type":"quantitative"},"text":{"field":"t"}}}
 ]}
]
}
